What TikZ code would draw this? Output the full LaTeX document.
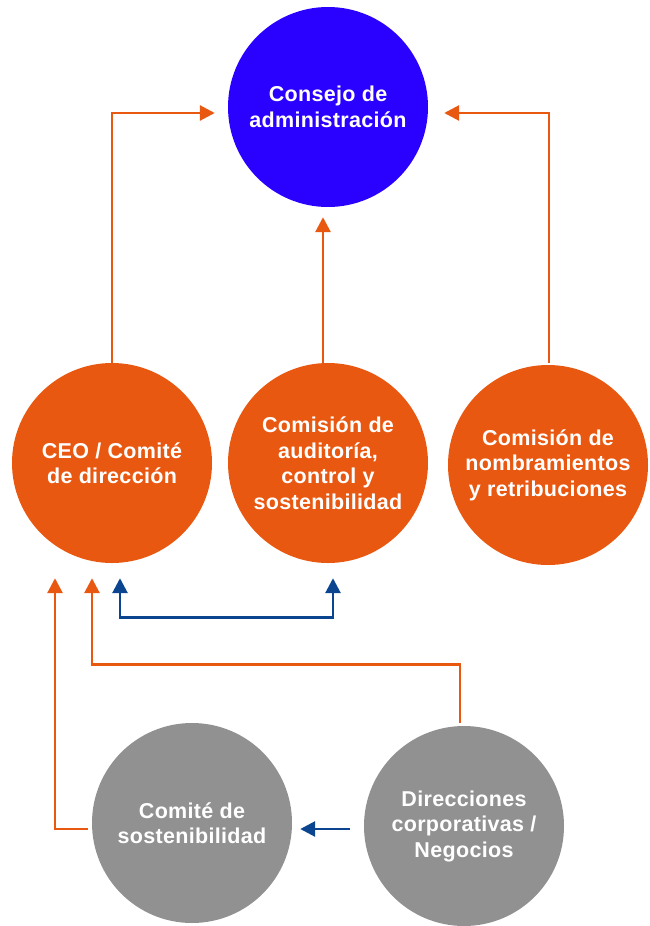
\documentclass[tikz,border=0pt]{standalone}
\usepackage{fontspec}
\setmainfont[LetterSpace=1.5]{Liberation Sans}
\usetikzlibrary{arrows.meta,calc}
\definecolor{cblue}{HTML}{2A00FF}
\definecolor{corange}{HTML}{E95811}
\definecolor{cgrey}{HTML}{919191}
\definecolor{cnavy}{HTML}{0B4590}
\begin{document}
\begin{tikzpicture}[x=1pt,y=-1pt,
  bubble/.style={circle,minimum size=200pt,inner sep=0pt,align=center,text=white,
    font=\fontsize{21.5}{25.5}\selectfont\bfseries},
  oline/.style={draw=corange,line width=2.8pt},
  nline/.style={draw=cnavy,line width=2.8pt},
  otip/.style={-{Triangle[length=15pt,width=15pt]}},
  ntip/.style={{Triangle[length=15pt,width=15pt]}-{Triangle[length=15pt,width=15pt]}}]
\useasboundingbox (0,0) rectangle (649,926);
\node[bubble,fill=cblue] (cons) at (328,107) {Consejo de\\administración};
\node[bubble,fill=corange] (ceo) at (112,463) {CEO / Comité\\de dirección};
\node[bubble,fill=corange] (aud) at (328,463) {Comisión de\\auditoría,\\control y\\sostenibilidad};
\node[bubble,fill=corange] (nom) at (548,465) {Comisión de\\nombramientos\\y retribuciones};
\node[bubble,fill=cgrey] (com) at (192,823) {Comité de\\sostenibilidad};
\node[bubble,fill=cgrey] (dir) at (464,826) {Direcciones\\corporativas /\\Negocios};
% coordinates for arrow ends
\coordinate (t1) at ($(cons.west)+(-13,6)$);
\coordinate (t2) at ($(cons.south)+(-5,10)$);
\coordinate (t3) at ($(cons.east)+(16,6)$);
\coordinate (b1) at ($(ceo.south)+(8,15)$);
\coordinate (b2) at ($(aud.south)+(5,15)$);
\coordinate (c1) at ($(ceo.south)+(-20,15)$);
\coordinate (c2) at ($(ceo.south)+(-57,15)$);
% orange connectors to board
\draw[oline,otip] (ceo.north) |- (t1);
\draw[oline,otip] ($(aud.north)+(-5,7)$) -- (t2);
\draw[oline,otip] ($(nom.north)+(1,-2)$) |- (t3);
% navy two-way connector
\draw[nline,ntip] (b1) -- ++(0,39) -| (b2);
% orange connectors to CEO
\draw[oline,otip] ($(dir.north)+(-4,-3)$) -- ++(0,-58) -| (c1);
\draw[oline,otip] ($(com.west)+(-4,6)$) -| (c2);
% navy connector
\draw[nline,otip] ($(dir.west)+(-14,3)$) -- ($(com.east)+(8,6)$);
\end{tikzpicture}
\end{document}
